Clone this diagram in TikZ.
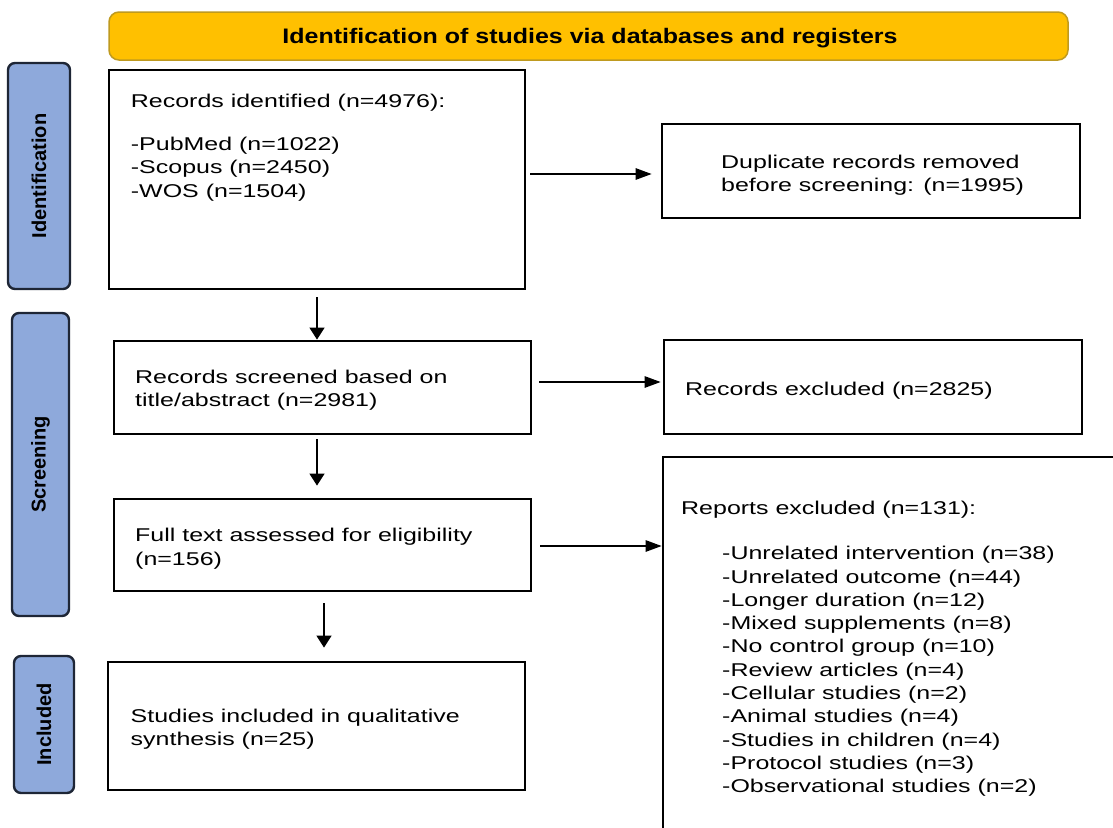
\documentclass[tikz,border=0pt]{standalone}
\usepackage{fontspec}
\setmainfont{Liberation Sans}
\newfontfamily\bodyfont{Liberation Sans}[FakeStretch=1.35]
\newfontfamily\titlefont{Liberation Sans}[FakeStretch=1.19]
\usetikzlibrary{arrows.meta}
\definecolor{bannerfill}{HTML}{FFC000}
\definecolor{bannerdraw}{HTML}{BF9A1F}
\definecolor{labfill}{HTML}{8EA9DB}
\definecolor{labdraw}{HTML}{1E2636}
\begin{document}
\begin{tikzpicture}[x=1pt,y=-1pt,
  box/.style={draw=black, line width=2.8pt, fill=white, inner sep=0pt},
  lab/.style={draw=labdraw, fill=labfill, line width=2.4pt, rounded corners=7pt,
    rotate=90, inner sep=0pt, font=\fontsize{20}{20}\selectfont\bfseries},
  txt/.style={anchor=base west, inner sep=0pt, align=left,
    font=\bodyfont\fontsize{18.5}{23.3}\selectfont},
  harr/.style={line width=1.3pt, -{Triangle[length=16pt,width=11.5pt]}},
  varr/.style={line width=1.3pt, -{Triangle[length=12pt,width=15pt]}},
]
\useasboundingbox (0,0) rectangle (1113,827);
\clip (0,0) rectangle (1113,827);

% banner
\node[draw=bannerdraw, fill=bannerfill, line width=1.5pt, rounded corners=10pt,
  minimum width=959pt, minimum height=48pt, inner sep=0pt] (banner) at (588.5,36) {};
\node[anchor=base, inner sep=0pt, font=\titlefont\fontsize{21}{22}\selectfont\bfseries]
  (bannertxt) at (590,43.3) {Identification of studies via databases and registers};

% phase labels
\node[lab, minimum width=226pt, minimum height=62pt] (labid) at (39,176) {Identification};
\node[lab, minimum width=303pt, minimum height=57pt] (labscr) at (40.5,464.5) {Screening};
\node[lab, minimum width=137pt, minimum height=60pt] (labinc) at (44,724.5) {Included};

% boxes
\node[box, minimum width=416pt, minimum height=219pt] (ident) at (317,179.5) {};
\node[box, minimum width=418pt, minimum height=94pt] (dup) at (871,171) {};
\node[box, minimum width=417pt, minimum height=93pt] (screened) at (322.5,387.5) {};
\node[box, minimum width=418pt, minimum height=94pt] (excl) at (873,387) {};
\node[box, minimum width=417pt, minimum height=92pt] (full) at (322.5,545) {};
\node[box, minimum width=417pt, minimum height=128pt] (incl) at (316.5,726) {};
\node[box, minimum width=462pt, minimum height=383pt] (reports) at (894,648.5) {};

% texts (base anchor = baseline of the last line)
\node[txt] (identtxt) at (130.7,197) {Records identified (n=4976):\\[19.9pt]-PubMed (n=1022)\\-Scopus (n=2450)\\-WOS (n=1504)};
\node[txt] (duptxt) at (721,191.7) {Duplicate records removed\\before screening: (n=1995)};
\node[txt] (scrtxt) at (135,406.7) {Records screened based on\\title/abstract (n=2981)};
\node[txt] (excltxt) at (685,395) {Records excluded (n=2825)};
\node[txt] (fulltxt) at (135,565) {Full text assessed for eligibility\\(n=156)};
\node[txt] (incltxt) at (130.5,745.8) {Studies included in qualitative\\synthesis (n=25)};
\node[txt] (reptxt) at (681,514) {Reports excluded (n=131):};
\node[txt] (replist) at (722,792.7) {-Unrelated intervention (n=38)\\-Unrelated outcome (n=44)\\-Longer duration (n=12)\\-Mixed supplements (n=8)\\-No control group (n=10)\\-Review articles (n=4)\\-Cellular studies (n=2)\\-Animal studies (n=4)\\-Studies in children (n=4)\\-Protocol studies (n=3)\\-Observational studies (n=2)};

% connectors
\draw[harr, shorten <=4pt, shorten >=9pt] (ident.east |- 0,174) -- (dup.west |- 0,174);
\draw[harr, shorten <=7pt, shorten >=2pt] (screened.east |- 0,382) -- (excl.west |- 0,382);
\draw[harr, shorten <=8pt] (full.east |- 0,546) -- (reports.west |- 0,546);
\draw[varr, shorten <=7pt] (ident.south) -- (ident.south |- screened.north);
\draw[varr, shorten <=4pt, shorten >=12pt] (screened.south -| ident.south) -- (full.north -| ident.south);
\draw[varr, shorten <=11pt, shorten >=13pt] (full.south -| 324,0) -- (incl.north -| 324,0);
\end{tikzpicture}
\end{document}
